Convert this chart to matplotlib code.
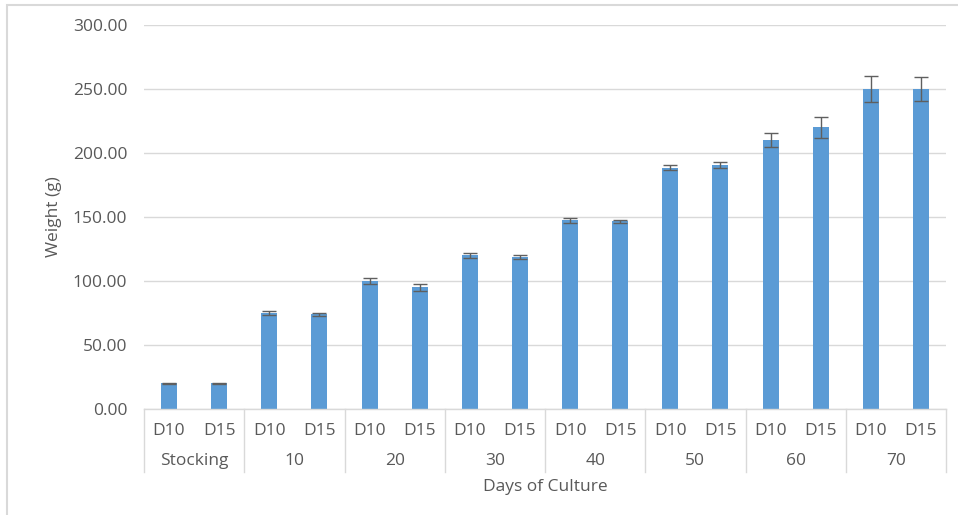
import matplotlib
matplotlib.use("Agg")
import matplotlib.pyplot as plt
from matplotlib.lines import Line2D
from matplotlib.patches import Rectangle
import numpy as np

# data
groups = ["Stocking", "10", "20", "30", "40", "50", "60", "70"]
densities = ["D10", "D15"]
weight_d10 = [20.0, 75.0, 100.0, 120.0, 147.5, 188.5, 210.5, 250.0]
weight_d15 = [20.0, 74.0, 95.0, 118.5, 146.5, 190.5, 220.0, 250.0]
err_d10 = [0.5, 1.5, 2.5, 2.0, 2.0, 2.0, 5.5, 10.0]
err_d15 = [0.5, 1.0, 2.5, 1.5, 1.5, 2.5, 8.0, 9.0]
y_ticks = [0, 50, 100, 150, 200, 250, 300]

TEXT = "#595959"
GRID = "#D9D9D9"
BAR = "#5B9BD5"
FS = 12.5

plt.rcParams["font.family"] = ["Open Sans", "DejaVu Sans"]

W, H = 958, 515
fig = plt.figure(figsize=(W / 100, H / 100), dpi=100)

# chart frame (only top and left edges show in the reference)
fig.patches.append(Rectangle((7 / W, -0.1), 1.2, (H - 5) / H + 0.1,
                             transform=fig.transFigure, fill=False,
                             edgecolor=GRID, linewidth=1.5))

ax = fig.add_axes([144 / W, (H - 409) / H, 802 / W, 384 / H])

# interleave D10 / D15 into one row of slots
values, errors, labels = [], [], []
for i in range(len(groups)):
    values += [weight_d10[i], weight_d15[i]]
    errors += [err_d10[i], err_d15[i]]
    labels += densities
x = np.arange(len(values))

ax.bar(x, values, width=0.32, color=BAR, zorder=2)
ax.errorbar(x, values, yerr=errors, fmt="none", ecolor="#5f5f5f",
            elinewidth=1.0, capsize=5, capthick=1.0, zorder=3)

ax.set_xlim(-0.5, len(values) - 0.5)
ax.set_ylim(0, 300)
ax.set_yticks(y_ticks)
ax.set_yticklabels([f"{v:.2f}" for v in y_ticks])
ax.yaxis.grid(True, color=GRID, linewidth=1.0, zorder=0)
ax.set_axisbelow(True)
for s in ["top", "right", "left"]:
    ax.spines[s].set_visible(False)
ax.spines["bottom"].set_color(GRID)
ax.spines["bottom"].set_linewidth(1.0)

ax.tick_params(axis="y", length=0, labelsize=FS, labelcolor=TEXT, pad=12)
ax.set_xticks(x)
ax.set_xticklabels(labels)
ax.tick_params(axis="x", length=0, labelsize=FS, labelcolor=TEXT, pad=10)

ax.set_ylabel("Weight (g)", fontsize=FS, color=TEXT, labelpad=8)

# second category row + separators
trans = ax.get_xaxis_transform()
sep_bottom = -(472 - 409) / 384
for i, g in enumerate(groups):
    ax.text(2 * i + 0.5, -(461 - 409) / 384, g, transform=trans,
            ha="center", va="center", fontsize=FS, color=TEXT)
for i in range(len(groups) + 1):
    ax.add_line(Line2D([2 * i - 0.5, 2 * i - 0.5], [0, sep_bottom],
                       transform=trans, color=GRID, linewidth=1.0,
                       clip_on=False))

ax.text(0.5, -(487 - 409) / 384, "Days of Culture", transform=ax.transAxes,
        ha="center", va="center", fontsize=FS, color=TEXT)

fig.savefig("out.png", dpi=100)
